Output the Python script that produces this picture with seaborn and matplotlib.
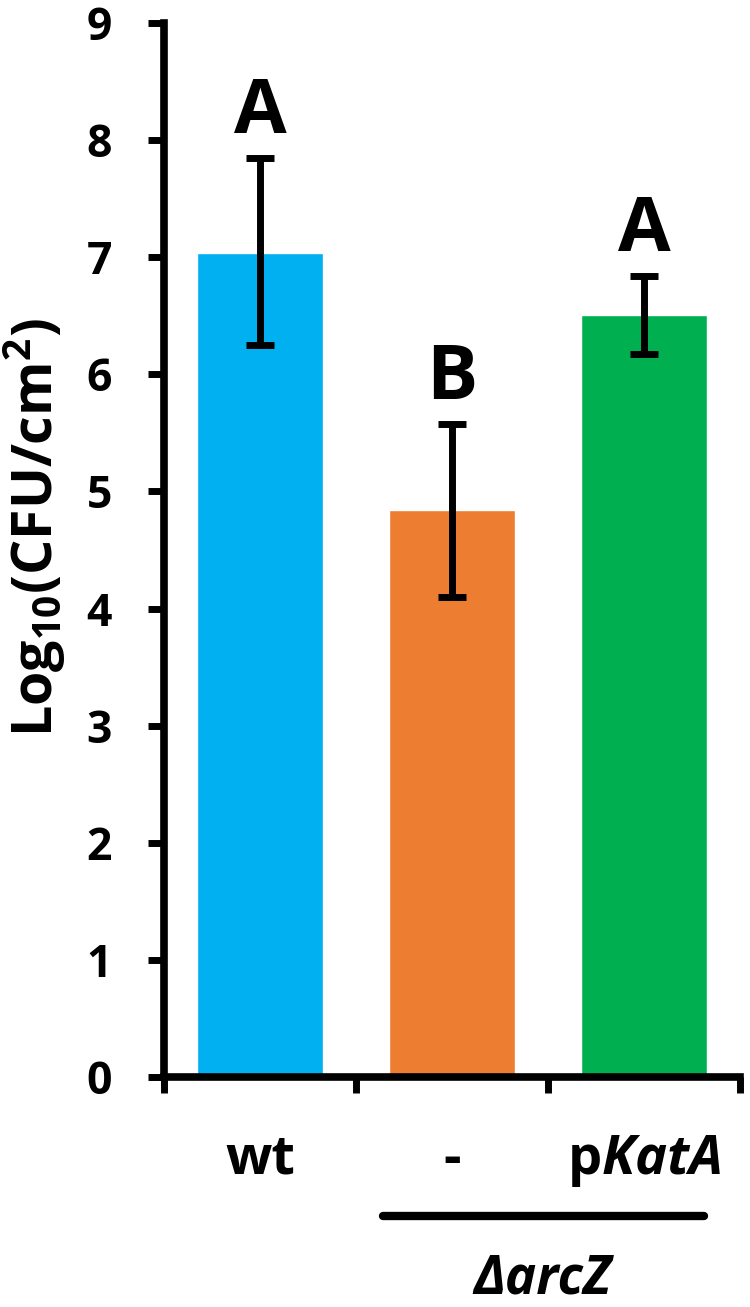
import numpy as np
import pandas as pd
import matplotlib
matplotlib.use('Agg')
import matplotlib.pyplot as plt
import seaborn as sns

# data
strains = ['wt', '-', 'pKatA']
tick_labels = ['wt', '-', r'p$\it{KatA}$']
cfu_mean = [7.04, 4.84, 6.51]
err_low = [6.25, 4.10, 6.17]
err_high = [7.85, 5.58, 6.84]
letters = ['A', 'B', 'A']
colors = ['#00B0F0', '#ED7D31', '#00B050']

sns.set_style('ticks', {'axes.edgecolor': 'black', 'xtick.color': 'black',
                        'ytick.color': 'black', 'text.color': 'black',
                        'axes.labelcolor': 'black'})
plt.rcParams['font.family'] = ['Open Sans', 'DejaVu Sans']
plt.rcParams['mathtext.fontset'] = 'custom'
plt.rcParams['mathtext.it'] = 'Open Sans:italic:bold'
plt.rcParams['mathtext.default'] = 'regular'

df = pd.DataFrame({'strain': strains, 'cfu': cfu_mean})

fig = plt.figure(figsize=(7.5, 13.07), dpi=100)
ax = fig.add_axes([164 / 750, 1 - 1077 / 1307, 576 / 750, 1054 / 1307])

sns.barplot(data=df, x='strain', y='cfu', hue='strain', palette=colors,
            width=0.66, saturation=1, legend=False, ax=ax)

mean = np.array(cfu_mean)
yerr = [mean - np.array(err_low), np.array(err_high) - mean]
ax.errorbar(range(len(strains)), mean, yerr=yerr, fmt='none', ecolor='black',
            elinewidth=5, capsize=10, capthick=5)

# significance letters
for i, lab in enumerate(letters):
    ax.annotate(lab, xy=(i, err_high[i]), xytext=(0, 18), textcoords='offset points',
                ha='center', va='baseline', fontsize=55, fontweight='bold')

ax.set_xlim(-0.5, 2.5)
ax.set_ylim(0, 9)
ax.set_yticks(range(0, 10))
ax.tick_params(axis='y', length=11.5, width=5, labelsize=32, pad=26, direction='out')
for t in ax.get_yticklabels():
    t.set_fontweight('bold')

ax.set_xticks([0, 1, 2], labels=tick_labels)
ax.tick_params(axis='x', which='major', length=0, labelsize=39, pad=40)
for t in ax.get_xticklabels():
    t.set_fontweight('bold')
ax.set_xticks([-0.5, 0.5, 1.5, 2.5], minor=True)
ax.tick_params(axis='x', which='minor', length=11.5, width=5, direction='out')

ax.set_xlabel('')
ax.set_ylabel('Log$_{10}$(CFU/cm$^{2}$)', fontsize=40, fontweight='bold', va='center')
ax.yaxis.set_label_coords(-0.224, 0.521)

for side in ['top', 'right']:
    ax.spines[side].set_visible(False)
for side in ['left', 'bottom']:
    ax.spines[side].set_linewidth(5.5)
    ax.spines[side].set_capstyle('projecting')

# group line and label for the mutant
trans = ax.get_xaxis_transform()
ax.plot([0.64, 2.31], [-0.132, -0.132], transform=trans, clip_on=False,
        color='black', lw=6)
ax.text(1.47, -0.205, 'ΔarcZ', transform=trans, ha='center', va='baseline',
        fontsize=38, fontweight='bold', style='italic')

fig.savefig('out.png', dpi=100)
